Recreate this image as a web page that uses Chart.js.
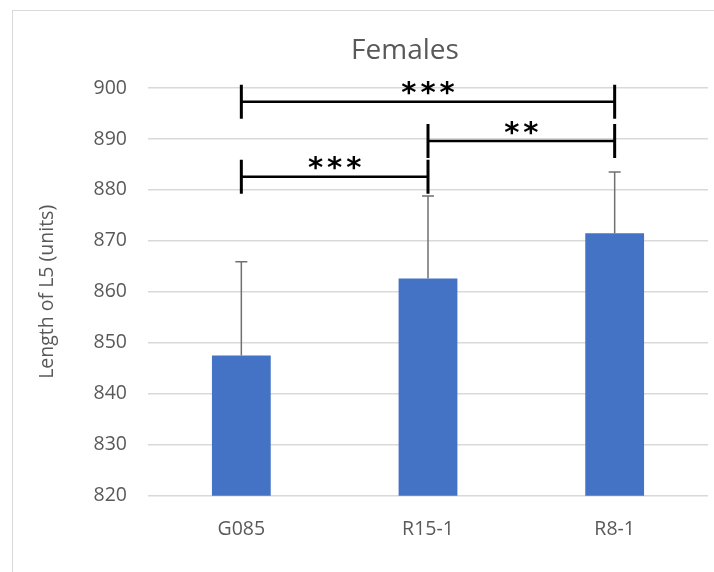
<!DOCTYPE html>
<html>
<head>
<meta charset="utf-8">
<script src="https://cdn.jsdelivr.net/npm/chart.js@4.4.1/dist/chart.umd.min.js"></script>
<style>
  html, body { margin: 0; padding: 0; background: #fff; }
  #wrap { position: relative; width: 714px; height: 572px; overflow: hidden; }
  #frame { position: absolute; left: 12px; top: 10px; width: 900px; height: 800px; border: 1.5px solid #d9d9d9; }
  canvas { position: absolute; left: 0; top: 0; }
</style>
</head>
<body>
<div id="wrap">
  <div id="frame"></div>
  <canvas id="chart" width="714" height="572"></canvas>
</div>
<script>
// データ
const categories = ['G085', 'R15-1', 'R8-1'];
const means = [847.5, 862.6, 871.5];
const errors = [18.4, 16.2, 12.0];
const yTicks = [820, 830, 840, 850, 860, 870, 880, 890, 900];

// 有意差の括弧
const sigFrom = ['G085', 'R15-1', 'G085'];
const sigTo = ['R8-1', 'R8-1', 'R15-1'];
const sigLevel = [897.3, 889.6, 882.6];
const sigLabel = ['***', '**', '***'];

const textColor = '#595959';
const fontFamily = "'Open Sans', sans-serif";

// エラーバー（上側のみ）
const errorBarPlugin = {
  id: 'errorBars',
  afterDatasetsDraw(chart) {
    const ctx = chart.ctx;
    const y = chart.scales.y;
    const meta = chart.getDatasetMeta(0);
    ctx.save();
    ctx.strokeStyle = '#707070';
    ctx.lineWidth = 1.5;
    meta.data.forEach((bar, i) => {
      const top = y.getPixelForValue(means[i] + errors[i]);
      ctx.beginPath();
      ctx.moveTo(bar.x, bar.y);
      ctx.lineTo(bar.x, top);
      ctx.moveTo(bar.x - 6, top);
      ctx.lineTo(bar.x + 6, top);
      ctx.stroke();
    });
    ctx.restore();
  }
};

// 有意差表示
const sigPlugin = {
  id: 'significance',
  afterDraw(chart) {
    const ctx = chart.ctx;
    const x = chart.scales.x;
    const y = chart.scales.y;
    ctx.save();
    ctx.strokeStyle = '#000';
    ctx.fillStyle = '#000';
    sigLevel.forEach((lv, i) => {
      const x1 = x.getPixelForValue(categories.indexOf(sigFrom[i]));
      const x2 = x.getPixelForValue(categories.indexOf(sigTo[i]));
      const yy = y.getPixelForValue(lv);
      ctx.lineWidth = 2.5;
      ctx.beginPath();
      ctx.moveTo(x1, yy);
      ctx.lineTo(x2, yy);
      ctx.stroke();
      ctx.lineWidth = 3;
      ctx.beginPath();
      ctx.moveTo(x1, yy - 17);
      ctx.lineTo(x1, yy + 17);
      ctx.moveTo(x2, yy - 17);
      ctx.lineTo(x2, yy + 17);
      ctx.stroke();
      ctx.font = "bold 29px 'DejaVu Sans'";
      ctx.textAlign = 'center';
      ctx.textBaseline = 'middle';
      ctx.letterSpacing = '4px';
      ctx.fillText(sigLabel[i], (x1 + x2) / 2 + 2, yy - 7);
    });
    ctx.restore();
  }
};

// タイトル
const titlePlugin = {
  id: 'femaleTitle',
  afterDraw(chart) {
    const ctx = chart.ctx;
    ctx.save();
    ctx.fillStyle = textColor;
    ctx.font = "28px " + fontFamily;
    ctx.textAlign = 'center';
    ctx.textBaseline = 'middle';
    ctx.fillText('Females', 405, 51);
    ctx.restore();
  }
};

const ctx = document.getElementById('chart').getContext('2d');
const myChart = new Chart(ctx, {
  type: 'bar',
  data: {
    labels: categories,
    datasets: [{
      data: means,
      backgroundColor: '#4472C4',
      barPercentage: 0.315,
      categoryPercentage: 1.0
    }]
  },
  options: {
    responsive: false,
    animation: false,
    layout: {
      padding: { left: 32, right: 6, top: 88, bottom: 0 }
    },
    plugins: {
      legend: { display: false },
      tooltip: { enabled: false },
      title: { display: false }
    },
    scales: {
      x: {
        grid: { display: false },
        border: { display: false },
        ticks: {
          color: textColor,
          padding: 14,
          font: { family: fontFamily, size: 19.5 }
        },
        afterFit(scale) { scale.height = 76.3; }
      },
      y: {
        min: yTicks[0],
        max: yTicks[yTicks.length - 1],
        afterBuildTicks(scale) {
          scale.ticks = yTicks.map(v => ({ value: v }));
        },
        grid: { color: '#d9d9d9', lineWidth: 1.5, drawTicks: false },
        border: { display: false },
        ticks: {
          color: textColor,
          padding: 21,
          font: { family: fontFamily, size: 19.5 }
        },
        title: {
          display: true,
          text: 'Length of L5 (units)',
          color: textColor,
          font: { family: fontFamily, size: 19.5 }
        },
        afterFit(scale) { scale.width = 116; }
      }
    }
  },
  plugins: [errorBarPlugin, sigPlugin, titlePlugin]
});
</script>
</body>
</html>
